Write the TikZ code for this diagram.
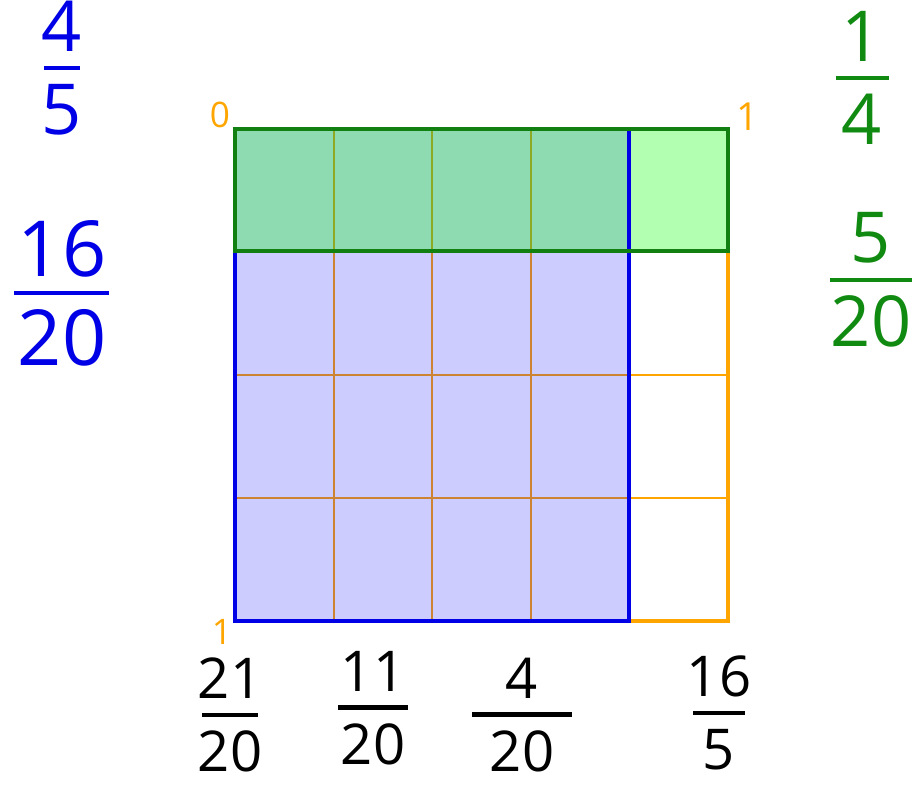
\documentclass[tikz,border=0pt]{standalone}
\usepackage{fontspec}
\setmainfont{Open Sans}
\usepackage{tikz}
\usetikzlibrary{positioning, calc}
\definecolor{cBlue}{HTML}{0000E6}
\definecolor{cGreen}{HTML}{118A11}
\definecolor{cOrange}{HTML}{FFA500}
\definecolor{cGridB}{HTML}{0000FF}
\definecolor{cGridG}{HTML}{00FF00}
\definecolor{cEdgeG}{HTML}{118011}
% stacked fraction: numerator, denominator, bar width
\newcommand{\hfrac}[3]{\vbox{\offinterlineskip\halign{\hfil##\hfil\cr
  #1\cr\noalign{\kern4pt}\rule{#3}{1.2pt}\cr\noalign{\kern4pt}#2\cr}}}

\begin{document}
\begin{tikzpicture}[
  every node/.style={inner sep=0pt},
  fr/.style={font=\fontsize{20}{24}\selectfont},
  frb/.style={font=\fontsize{22}{26}\selectfont},
  frs/.style={font=\fontsize{16}{20}\selectfont, text=black},
  tick/.style={font=\fontsize{10}{12}\selectfont, text=cOrange},
  grid/.style={draw=cOrange, line width=0.35pt},
  frame/.style={draw=cOrange, line width=0.95pt}
]
\useasboundingbox (0,0) rectangle (9.12,-7.84);

% unit square, 5 x 4 cells
\foreach \x in {3.34,4.32,5.31,6.29} \draw[grid] (\x,-1.29) -- (\x,-6.21);
\foreach \y in {-2.51,-3.75,-4.98} \draw[grid] (2.35,\y) -- (7.28,\y);
\draw[frame] (2.35,-1.29) rectangle (7.28,-6.21);

% shaded parts
\fill[cGridB, fill opacity=0.2] (2.35,-1.29) rectangle (6.29,-6.21);
\fill[cGridG, fill opacity=0.3] (2.35,-1.29) rectangle (7.28,-2.51);
\draw[cBlue, line width=0.95pt] (2.35,-1.29) rectangle (6.29,-6.21);
\draw[cEdgeG, line width=1pt] (2.35,-1.29) rectangle (7.28,-2.51);

% corner marks
\node[tick] (zero) at (2.20,-1.15) {0};
\node[tick, font=\fontsize{11}{13}\selectfont] (oneR) at (7.48,-1.17) {1};
\node[tick] (oneB) at (2.22,-6.32) {1};

% fractions
\node[fr, text=cBlue] (fBlueA) at (0.62,-0.68) {\hfrac{4}{5}{0.36cm}};
\node[frb, text=cBlue] (fBlueB) at (0.62,-2.93) {\hfrac{16}{20}{0.95cm}};
\node[fr, text=cGreen] (fGreenA) at (8.62,-0.78) {\hfrac{1}{4}{0.53cm}};
\node[fr, text=cGreen] (fGreenB) at (8.71,-2.80) {\hfrac{5}{20}{0.82cm}};

\node[frs] (fA) at (2.30,-7.15) {\hfrac{21}{20}{0.56cm}};
\node[frs] (fB) at (3.73,-7.08) {\hfrac{11}{20}{0.70cm}};
\node[frs] (fC) at (5.22,-7.15) {\hfrac{4}{20}{1.00cm}};
\node[frs] (fD) at (7.19,-7.13) {\hfrac{16}{5}{0.52cm}};
\end{tikzpicture}
\end{document}
